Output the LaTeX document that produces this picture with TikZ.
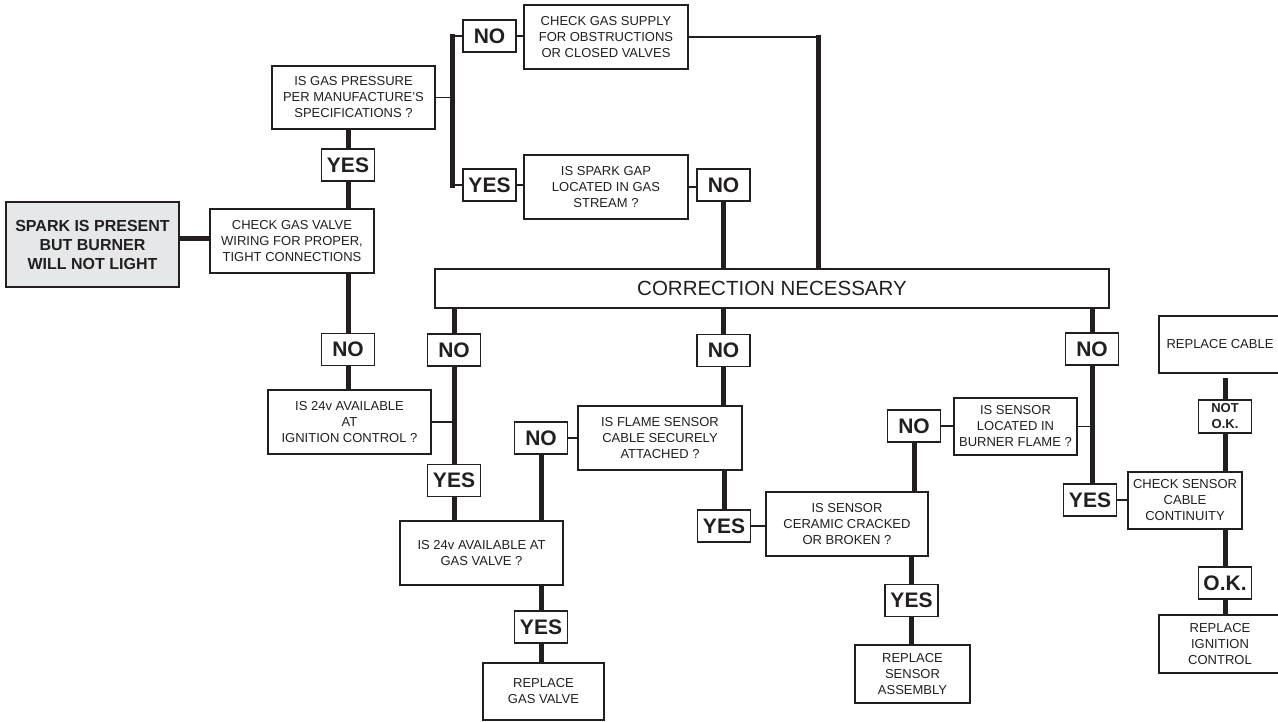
\documentclass[tikz,border=0pt]{standalone}
\usepackage{fontspec}
\setmainfont{Liberation Sans}
\usetikzlibrary{backgrounds,calc}
\definecolor{ink}{HTML}{231F20}
\definecolor{sparkfill}{HTML}{E6E7E8}
\tikzset{
  qbox/.style={draw=ink, line width=1.1pt, fill=white, align=center, inner sep=0pt,
    text=ink, font=\fontsize{13}{16}\selectfont},
  lbl/.style={draw=ink, line width=1.1pt, fill=white, inner sep=0pt, text=ink,
    minimum width=53pt, minimum height=32pt, font=\bfseries\fontsize{21}{21}\selectfont},
  thk/.style={draw=ink, line width=5pt},
  thn/.style={draw=ink, line width=1.3pt},
}
\begin{document}
\begin{tikzpicture}[x=1pt,y=-1pt]
\useasboundingbox (0,0) rectangle (1278,721);
\clip (0,0) rectangle (1278,721);
% start box
\node[qbox, fill=sparkfill, line width=2pt, minimum width=173pt, minimum height=85pt,
  font=\bfseries\fontsize{16}{19}\selectfont] (spark) at (92.5,244.5)
  {SPARK IS PRESENT\\BUT BURNER\\WILL NOT LIGHT};
\coordinate (j0) at (195,238);
% left column
\node[qbox, minimum width=163pt, minimum height=63pt] (gp) at (353.5,97.5)
  {IS GAS PRESSURE\\PER MANUFACTURE'S\\SPECIFICATIONS ?};
\node[lbl] (yes1) at (348,165) {YES};
\node[qbox, minimum width=164pt, minimum height=64pt] (cgv) at (292,241)
  {CHECK GAS VALVE\\WIRING FOR PROPER,\\TIGHT CONNECTIONS};
\node[lbl] (no1) at (348,349.5) {NO};
\node[qbox, minimum width=163pt, minimum height=64pt] (ign24) at (349.5,422)
  {IS 24v AVAILABLE\\AT\\IGNITION CONTROL ?};
% top branch
\coordinate (t2) at (452,0);
\coordinate (t3) at (818,0);
\node[lbl] (noA) at (489.5,36) {NO};
\node[qbox, minimum width=164pt, minimum height=64pt] (supply) at (606,37)
  {CHECK GAS SUPPLY\\FOR OBSTRUCTIONS\\OR CLOSED VALVES};
\node[lbl] (yesA) at (489.5,185) {YES};
\node[qbox, minimum width=164pt, minimum height=64pt] (gap) at (606,187)
  {IS SPARK GAP\\LOCATED IN GAS\\STREAM ?};
\node[lbl] (noB) at (723.5,185) {NO};
% correction bar
\node[qbox, minimum width=674pt, minimum height=39pt, font=\fontsize{20.5}{24}\selectfont]
  (corr) at (772,288.5) {CORRECTION NECESSARY};
% column 453
\node[lbl] (noC) at (454,350) {NO};
\node[lbl] (yesC) at (454,480.5) {YES};
\node[qbox, minimum width=163pt, minimum height=64pt] (gv24) at (481.5,553)
  {IS 24v AVAILABLE AT\\GAS VALVE ?};
\node[lbl] (noD) at (541,438) {NO};
\node[qbox, minimum width=164pt, minimum height=64pt] (flame) at (660,438)
  {IS FLAME SENSOR\\CABLE SECURELY\\ATTACHED ?};
\node[lbl] (yesE) at (541,627) {YES};
\node[qbox, minimum width=121pt, minimum height=57pt] (rgv) at (543.5,691.5)
  {REPLACE\\GAS VALVE};
% column 725
\node[lbl] (noF) at (723.5,350.5) {NO};
\node[lbl] (yesG) at (724,526) {YES};
\node[qbox, minimum width=162pt, minimum height=64pt] (ceramic) at (847,524)
  {IS SENSOR\\CERAMIC CRACKED\\OR BROKEN ?};
\node[lbl] (noH) at (914,426) {NO};
\node[qbox, minimum width=123pt, minimum height=57pt] (burner) at (1015.5,426.5)
  {IS SENSOR\\LOCATED IN\\BURNER FLAME ?};
\node[lbl] (yesH) at (911.5,600.5) {YES};
\node[qbox, minimum width=115pt, minimum height=58pt] (rsa) at (912.5,674)
  {REPLACE\\SENSOR\\ASSEMBLY};
% column 1091
\node[lbl] (noI) at (1092,349) {NO};
\node[lbl] (yesI) at (1090,500) {YES};
\node[qbox, minimum width=114pt, minimum height=57pt] (chk) at (1185,500.5)
  {CHECK SENSOR\\CABLE\\CONTINUITY};
\node[lbl, font=\bfseries\fontsize{13}{16}\selectfont, align=center, minimum height=33pt]
  (notok) at (1225,416.5) {NOT\\O.K.};
\node[qbox, minimum width=122pt, minimum height=57pt] (rcable) at (1220,344.5)
  {REPLACE CABLE};
\node[lbl] (ok) at (1225,583) {O.K.};
\node[qbox, minimum width=122pt, minimum height=58pt] (rig) at (1220,644)
  {REPLACE\\IGNITION\\CONTROL};
% connectors
\begin{scope}[on background layer]
  \draw[thk] (spark.east |- j0) -- (cgv.west |- j0);
  \draw[thk] (gp.south -| yes1) -- (ign24.north -| no1);
  \draw[thn] (gp.east) -- (gp.east -| t2);
  \draw[thk, line cap=rect] (noA.west -| t2) -- (yesA.west -| t2);
  \draw[thn] (noA.west) -- (noA.west -| t2);
  \draw[thn] (yesA.west) -- (yesA.west -| t2);
  \draw[thn] (noA.east) -- (supply.west |- noA.east);
  \draw[thn] (yesA.east) -- (gap.west |- yesA.east);
  \draw[thn] (gap.east) -- (noB.west |- gap.east);
  \draw[thn] (supply.east) -- (supply.east -| t3);
  \draw[thk, line cap=rect] (supply.east -| t3) -- (corr.north -| t3);
  \draw[thk] (noB) -- (corr.north -| noB);
  % column 453
  \draw[thk] (corr.south -| noC) -- (gv24.north -| noC);
  \draw[thn] (ign24.east) -- (ign24.east -| noC);
  \draw[thk] (noD) -- (gv24.north -| noD);
  \draw[thn] (noD.east) -- (noD.east -| flame.west);
  \draw[thk] (gv24.south -| yesE) -- (rgv.north -| yesE);
  % column 725
  \draw[thk] (corr.south -| noF) -- (flame.north -| noF);
  \draw[thk] (flame.south -| yesG) -- (yesG);
  \draw[thn] (yesG.east) -- (yesG.east -| ceramic.west);
  \draw[thk] (noH) -- (ceramic.north -| noH);
  \draw[thn] (noH.east) -- (noH.east -| burner.west);
  \draw[thk] (ceramic.south -| yesH) -- (rsa.north -| yesH);
  % column 1091
  \draw[thk] (corr.south -| noI) -- (yesI.north -| noI);
  \draw[thn] (burner.east) -- (burner.east -| noI);
  \draw[thn] (yesI.east) -- (yesI.east -| chk.west);
  % column 1224
  \draw[thk] (chk.north -| notok) -- ($(rcable.south -| notok)+(0,4)$);
  \draw[thk] (chk.south -| ok) -- (rig.north -| ok);
\end{scope}
\end{tikzpicture}
\end{document}
